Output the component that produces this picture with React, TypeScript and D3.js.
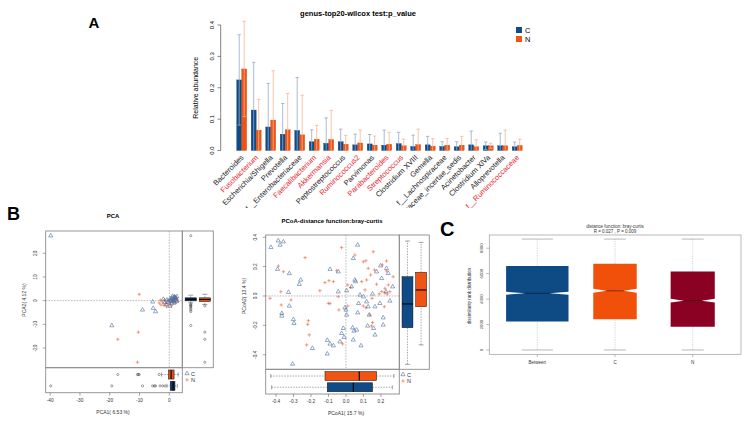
import * as d3 from "d3"

// ---- panel A: top20 genera ----
const genera = [
  "Bacteroides", "Fusobacterium", "Escherichia/Shigella", "Prevotella", "f__Enterobacteriaceae",
  "Faecalibacterium", "Akkermansia", "Peptostreptococcus", "Ruminococcus2", "Parvimonas",
  "Parabacteroides", "Streptococcus", "Clostridium XVIII", "Gemella", "f__Lachnospiraceae",
  "Erysipelotrichaceae_incertae_sedis", "Acinetobacter", "Clostridium XlVa", "Alloprevotella", "f__Ruminococcaceae",
]
const significant = [
  "Fusobacterium", "Faecalibacterium", "Akkermansia", "Ruminococcus2", "Parabacteroides", "Streptococcus", "f__Ruminococcaceae",
]
const cMean = [0.225, 0.129, 0.075, 0.052, 0.064, 0.028, 0.023, 0.028, 0.018, 0.021, 0.017, 0.022, 0.013, 0.018, 0.013, 0.012, 0.018, 0.015, 0.015, 0.012]
const cSd = [0.144, 0.152, 0.139, 0.098, 0.169, 0.038, 0.081, 0.04, 0.034, 0.03, 0.048, 0.036, 0.036, 0.027, 0.015, 0.016, 0.044, 0.012, 0.04, 0.015]
const nMean = [0.26, 0.065, 0.097, 0.066, 0.05, 0.036, 0.035, 0.02, 0.024, 0.017, 0.02, 0.015, 0.019, 0.014, 0.017, 0.017, 0.012, 0.015, 0.015, 0.016]
const nSd = [0.152, 0.098, 0.157, 0.116, 0.126, 0.044, 0.093, 0.028, 0.041, 0.029, 0.038, 0.021, 0.049, 0.024, 0.021, 0.028, 0.022, 0.008, 0.05, 0.02]
const abundanceTicks = [0, 0.1, 0.2, 0.3, 0.4]

// ---- panel B: PCA ----
const pcaC: [number, number][] = [
  [-39.8, 27.4], [-19.3, -10.5], [-9.0, -3.9], [-5.6, -0.5], [-5.4, -3.2], [-4.6, -4.6], [-2.0, 0.6],
  [-1.5, -0.8], [-1.0, -1.6], [-0.5, -0.6], [0.2, -2.3], [0.5, 0.2], [0.8, 0.9], [1.0, -0.4], [1.3, 1.3],
  [1.5, 0.6], [1.8, 1.6], [2.0, 0.2], [2.2, 1.0], [2.5, 1.7], [0.9, -1.2], [1.7, -0.9], [0.3, 0.8],
  [-0.8, 0.3], [2.4, -0.3], [1.1, 1.9], [1.9, 1.3], [0.6, -0.1], [2.1, 0.7], [1.4, 0.1],
]
const pcaN: [number, number][] = [
  [-10.1, 2.7], [-17.3, -16.3], [-10.4, -13.3], [-10.7, -26.0], [-3.4, -1.0], [-2.8, -1.8], [-2.3, -0.6],
  [-1.8, -2.0], [-1.2, -1.2], [-0.6, -0.2], [-0.2, -1.5], [0.3, -0.9], [0.7, -2.2], [1.2, -0.2], [1.6, 0.8],
  [2.0, -1.0], [2.6, 0.4], [3.0, -0.3], [-3.0, 0.2], [-1.6, 0.4], [0.0, 0.5], [0.9, 0.1], [1.8, 1.9],
  [2.4, 1.2], [-0.9, -2.6],
]
const pca1BoxC = [-0.8, 0.3, 1.3, 1.9, 2.7]
const pca1BoxN = [-2.6, -0.3, 0.6, 1.6, 3.0]
const pca1OutC = [-39.8, -19.3, -9.0, -5.6, -5.0, -4.6, -3.1, -2.2, -1.4]
const pca1OutN = [-17.3, -10.7, -10.4, -10.1, -3.4]
const pca2BoxC = [-0.9, -0.1, 0.6, 1.2, 2.3]
const pca2BoxN = [-1.6, -0.4, 0.5, 1.2, 2.7]
const pca2OutC = [27.4, -1.4, -1.8, -2.2, -2.6, -3.2, -3.9, -4.6, -10.5]
const pca2OutN = [-2.2, -13.3, -16.3, -26.0]
const pcaXTicks = [-40, -30, -20, -10, 0]
const pcaYTicks = [-20, -10, 0, 10, 20]

// ---- panel B: PCoA ----
const pcoaC: [number, number][] = [
  [-0.429, 0.331], [-0.387, 0.376], [-0.377, 0.347], [-0.358, 0.369], [-0.391, 0.182], [-0.324, 0.153],
  [-0.259, 0.109], [-0.267, 0.08], [-0.329, 0.025], [-0.324, -0.068], [-0.367, -0.118], [-0.367, -0.136],
  [-0.301, -0.159], [-0.297, -0.186], [-0.305, -0.463], [-0.192, -0.356], [-0.091, 0.182], [-0.044, 0.165],
  [-0.044, 0.029], [0.004, 0.036], [-0.107, -0.301], [-0.107, -0.394], [-0.091, -0.326], [-0.072, -0.338],
  [-0.006, -0.08], [0.0, -0.095], [0.004, -0.129], [-0.015, -0.22], [-0.025, -0.254], [-0.011, -0.281],
  [-0.034, -0.311], [0.032, 0.063], [0.051, 0.109], [0.055, 0.098], [0.067, 0.347], [0.042, 0.256],
  [0.08, 0.007], [0.072, -0.05], [0.067, -0.114], [0.038, -0.216], [0.046, -0.238], [0.042, -0.299],
  [0.061, -0.231], [0.086, -0.338], [0.118, -0.039], [0.127, -0.073], [0.133, -0.129], [0.124, -0.204],
  [0.166, -0.073], [0.166, -0.265], [0.158, -0.22], [0.175, 0.165], [0.198, 0.206], [0.213, -0.197],
  [0.232, 0.188], [0.242, 0.154], [0.204, 0.12], [0.194, -0.05], [0.213, -0.148], [0.251, -0.034],
  [0.267, 0.063], [0.229, 0.029], [0.152, 0.014], [0.1, -0.005],
]
const pcoaN: [number, number][] = [
  [-0.434, -0.016], [-0.387, 0.204], [-0.358, 0.165], [-0.372, 0.029], [-0.37, -0.061], [-0.314, -0.027],
  [-0.234, 0.261], [-0.215, -0.168], [-0.219, -0.193], [-0.21, -0.265], [-0.225, -0.333], [-0.149, 0.036],
  [-0.12, 0.091], [-0.097, 0.104], [-0.072, 0.098], [-0.101, -0.05], [-0.091, -0.052], [-0.044, -0.005],
  [-0.04, -0.095], [-0.053, 0.172], [-0.025, 0.329], [-0.019, -0.326], [0.01, -0.068], [0.01, 0.075],
  [0.027, 0.057], [0.051, 0.279], [0.099, 0.233], [0.114, 0.24], [0.118, 0.109], [0.09, 0.098],
  [0.109, 0.041], [0.156, 0.301], [0.127, 0.188], [0.163, 0.177], [0.141, 0.143], [0.175, 0.08],
  [0.149, -0.016], [0.099, -0.068], [0.114, -0.08], [0.137, -0.129], [0.152, -0.181], [0.146, -0.204],
  [0.19, 0.014], [0.208, 0.211], [0.232, 0.238], [0.232, 0.17], [0.223, 0.052], [0.251, 0.029],
  [0.27, 0.131], [0.242, 0.075], [0.219, -0.073], [0.205, 0.03], [0.222, 0.022], [0.236, 0.012],
]
const pcoa1BoxC = [-0.425, -0.107, 0.042, 0.152, 0.265]
const pcoa1BoxN = [-0.43, -0.12, 0.076, 0.175, 0.274]
const pcoa2BoxC = [-0.465, -0.216, -0.054, 0.131, 0.374]
const pcoa2BoxN = [-0.333, -0.073, 0.041, 0.161, 0.365]
const pcoaXTicks = [-0.4, -0.3, -0.2, -0.1, 0, 0.1, 0.2]
const pcoaYTicks = [-0.4, -0.2, 0, 0.2, 0.4]

// ---- panel C: anosim ----
const anosimGroups = ["Between", "C", "N"]
const anosimStats = [
  [0, 2230, 4460, 6610, 8720],
  [0, 2420, 4650, 6770, 8720],
  [0, 1830, 3880, 6170, 8720],
]
const anosimNotch = [120, 160, 140]
const anosimPairs = [4422, 2145, 2211]
const anosimTicks = [0, 2000, 4000, 6000, 8000]

const FONT = "'Liberation Sans', Arial, Helvetica, sans-serif"
const BLUE = "#0f4c87"
const ORANGE = "#ef5413"
const TRI_STROKE = "#4c70a0"
const PLUS_STROKE = "#e8643a"

const triPath = d3.symbol(d3.symbolTriangle, 7.5)() ?? ""
const plusPath = "M-1.7,0H1.7M0,-1.7V1.7"

function Markers({ pts, x, y, kind }: { pts: [number, number][]; x: d3.ScaleLinear<number, number>; y: d3.ScaleLinear<number, number>; kind: "tri" | "plus" }) {
  return (
    <g>
      {pts.map((p, i) => (
        <path
          key={i}
          d={kind === "tri" ? triPath : plusPath}
          transform={`translate(${x(p[0])},${y(p[1])})`}
          fill="none"
          stroke={kind === "tri" ? TRI_STROKE : PLUS_STROKE}
          strokeWidth={0.6}
        />
      ))}
    </g>
  )
}

function VBox({ cx, w, s, y, fill, out = [] }: { cx: number; w: number; s: number[]; y: d3.ScaleLinear<number, number>; fill: string; out?: number[] }) {
  const cap = w * 0.45
  return (
    <g>
      <line x1={cx} x2={cx} y1={y(s[0])} y2={y(s[1])} stroke="#555" strokeWidth={0.5} strokeDasharray="1.5 1.2" />
      <line x1={cx} x2={cx} y1={y(s[3])} y2={y(s[4])} stroke="#555" strokeWidth={0.5} strokeDasharray="1.5 1.2" />
      <line x1={cx - cap / 2} x2={cx + cap / 2} y1={y(s[0])} y2={y(s[0])} stroke="#444" strokeWidth={0.5} />
      <line x1={cx - cap / 2} x2={cx + cap / 2} y1={y(s[4])} y2={y(s[4])} stroke="#444" strokeWidth={0.5} />
      <rect x={cx - w / 2} y={y(s[3])} width={w} height={Math.max(0.8, y(s[1]) - y(s[3]))} fill={fill} stroke="#111" strokeWidth={0.5} />
      <line x1={cx - w / 2} x2={cx + w / 2} y1={y(s[2])} y2={y(s[2])} stroke="#000" strokeWidth={1.1} />
      {out.map((o, i) => (
        <circle key={i} cx={cx} cy={y(o)} r={1.1} fill="none" stroke="#333" strokeWidth={0.45} />
      ))}
    </g>
  )
}

function HBox({ cy, h, s, x, fill, out = [] }: { cy: number; h: number; s: number[]; x: d3.ScaleLinear<number, number>; fill: string; out?: number[] }) {
  const cap = h * 0.45
  return (
    <g>
      <line y1={cy} y2={cy} x1={x(s[0])} x2={x(s[1])} stroke="#555" strokeWidth={0.5} strokeDasharray="1.5 1.2" />
      <line y1={cy} y2={cy} x1={x(s[3])} x2={x(s[4])} stroke="#555" strokeWidth={0.5} strokeDasharray="1.5 1.2" />
      <line y1={cy - cap / 2} y2={cy + cap / 2} x1={x(s[0])} x2={x(s[0])} stroke="#444" strokeWidth={0.5} />
      <line y1={cy - cap / 2} y2={cy + cap / 2} x1={x(s[4])} x2={x(s[4])} stroke="#444" strokeWidth={0.5} />
      <rect y={cy - h / 2} x={x(s[1])} height={h} width={x(s[3]) - x(s[1])} fill={fill} stroke="#111" strokeWidth={0.5} />
      <line y1={cy - h / 2} y2={cy + h / 2} x1={x(s[2])} x2={x(s[2])} stroke="#000" strokeWidth={1.1} />
      {out.map((o, i) => (
        <circle key={i} cy={cy} cx={x(o)} r={1.1} fill="none" stroke="#333" strokeWidth={0.45} />
      ))}
    </g>
  )
}

function PanelA() {
  const xA = d3.scaleBand<string>().domain(genera).range([232.2, 526.7]).paddingInner(0.31).paddingOuter(0.31)
  const xSub = d3.scaleBand<string>().domain(["C", "N"]).range([0, xA.bandwidth()])
  const yA = d3.scaleLinear().domain([0, 0.4]).range([150.5, 25])
  const series = [
    { key: "C", mean: cMean, sd: cSd, fill: BLUE, err: "#93aacb" },
    { key: "N", mean: nMean, sd: nSd, fill: ORANGE, err: "#f6b595" },
  ]
  return (
    <g fontFamily={FONT}>
      <defs>
        <clipPath id="clipA">
          <rect x={150} y={0} width={420} height={208} />
        </clipPath>
      </defs>
      <text x={94} y={28} fontSize={15} fontWeight="bold" textAnchor="middle">A</text>
      <text x={358} y={16} fontSize={7.5} fontWeight="bold" textAnchor="middle">genus-top20-wilcox test:p_value</text>

      <line x1={220.7} x2={220.7} y1={yA(0)} y2={yA(0.4)} stroke="#333" strokeWidth={0.6} />
      {abundanceTicks.map((t) => (
        <g key={t}>
          <line x1={217.5} x2={220.7} y1={yA(t)} y2={yA(t)} stroke="#333" strokeWidth={0.6} />
          <text transform={`translate(214,${yA(t)}) rotate(-90)`} fontSize={6} textAnchor="middle">{t.toFixed(1)}</text>
        </g>
      ))}
      <text transform={`translate(198,${yA(0.2)}) rotate(-90)`} fontSize={7} textAnchor="middle">Relative abundance</text>

      {series.map((s) => (
        <g key={s.key}>
          {genera.map((g, i) => {
            const x0 = (xA(g) ?? 0) + (xSub(s.key) ?? 0)
            const bw = xSub.bandwidth()
            return <rect key={g} x={x0} y={yA(s.mean[i])} width={bw} height={yA(0) - yA(s.mean[i])} fill={s.fill} stroke={d3.color(s.fill)?.darker(0.6).toString()} strokeWidth={0.3} />
          })}
        </g>
      ))}
      {series.map((s) => (
        <g key={s.key + "err"}>
          {genera.map((g, i) => {
            const cx = (xA(g) ?? 0) + (xSub(s.key) ?? 0) + xSub.bandwidth() / 2
            const lo = s.mean[i] - s.sd[i]
            const hi = s.mean[i] + s.sd[i]
            return (
              <g key={g} stroke={s.err} strokeWidth={0.8}>
                <line x1={cx} x2={cx} y1={yA(Math.max(0, lo))} y2={yA(hi)} />
                <line x1={cx - 1.7} x2={cx + 1.7} y1={yA(hi)} y2={yA(hi)} />
                {lo > 0 && <line x1={cx - 1.7} x2={cx + 1.7} y1={yA(lo)} y2={yA(lo)} />}
              </g>
            )
          })}
        </g>
      ))}

      <g clipPath="url(#clipA)">
        {genera.map((g) => (
          <text
            key={g}
            transform={`translate(${(xA(g) ?? 0) + xA.bandwidth() / 2 + 2.5},${158}) rotate(-45)`}
            fontSize={7.5}
            textAnchor="end"
            fill={significant.includes(g) ? "#e8262d" : "#222"}
          >
            {g}
          </text>
        ))}
      </g>

      {series.map((s, i) => (
        <g key={s.key + "leg"}>
          <rect x={516} y={27 + i * 9} width={6} height={6} fill={s.fill} />
          <text x={525} y={32.5 + i * 9} fontSize={7.5}>{s.key}</text>
        </g>
      ))}
    </g>
  )
}

function PanelPCA() {
  const x = d3.scaleLinear().domain([-41.5, 4.36]).range([45.7, 182.3])
  const y = d3.scaleLinear().domain([-28.3, 29.4]).range([367.7, 231])
  const side = d3.scaleBand<string>().domain(["C", "N"]).range([182.3, 213.3]).padding(0.2)
  const bottom = d3.scaleBand<string>().domain(["N", "C"]).range([367.7, 392.7]).padding(0.2)
  const frame = "#8c8c8c"
  return (
    <g fontFamily={FONT}>
      <text x={7} y={220} fontSize={18} fontWeight="bold">B</text>
      <text x={113} y={218} fontSize={6} fontWeight="bold" textAnchor="middle">PCA</text>
      <line x1={x(0)} x2={x(0)} y1={231} y2={367.7} stroke="#777" strokeWidth={0.5} strokeDasharray="1.6 1.2" />
      <line x1={45.7} x2={182.3} y1={y(0)} y2={y(0)} stroke="#777" strokeWidth={0.5} strokeDasharray="1.6 1.2" />
      <Markers pts={pcaN} x={x} y={y} kind="plus" />
      <Markers pts={pcaC} x={x} y={y} kind="tri" />

      <VBox cx={(side("C") ?? 0) + side.bandwidth() / 2} w={side.bandwidth()} s={pca2BoxC} y={y} fill="#0b3a68" out={pca2OutC} />
      <VBox cx={(side("N") ?? 0) + side.bandwidth() / 2} w={side.bandwidth()} s={pca2BoxN} y={y} fill="#e0521a" out={pca2OutN} />
      <HBox cy={(bottom("N") ?? 0) + bottom.bandwidth() / 2} h={bottom.bandwidth()} s={pca1BoxN} x={x} fill="#e0521a" out={pca1OutN} />
      <HBox cy={(bottom("C") ?? 0) + bottom.bandwidth() / 2} h={bottom.bandwidth()} s={pca1BoxC} x={x} fill="#0b3a68" out={pca1OutC} />

      <rect x={45.7} y={231} width={136.6} height={136.7} fill="none" stroke={frame} strokeWidth={0.9} />
      <rect x={182.3} y={231} width={31} height={136.7} fill="none" stroke={frame} strokeWidth={0.9} />
      <rect x={45.7} y={367.7} width={136.6} height={25} fill="none" stroke={frame} strokeWidth={0.9} />

      {pcaYTicks.map((t) => (
        <g key={t}>
          <line x1={42.7} x2={45.7} y1={y(t)} y2={y(t)} stroke="#555" strokeWidth={0.5} />
          <text transform={`translate(37,${y(t)}) rotate(-90)`} fontSize={4.8} textAnchor="middle" fill="#333">{t}</text>
        </g>
      ))}
      {pcaXTicks.map((t) => (
        <g key={t}>
          <line x1={x(t)} x2={x(t)} y1={392.7} y2={395.7} stroke="#555" strokeWidth={0.5} />
          <text x={x(t)} y={402} fontSize={4.8} textAnchor="middle" fill="#333">{t}</text>
        </g>
      ))}
      <text transform="translate(26,300) rotate(-90)" fontSize={5} textAnchor="middle" fill="#333">PCA2( 4.12 %)</text>
      <text x={113} y={414} fontSize={5} textAnchor="middle" fill="#333">PCA1( 6.53 %)</text>

      <path d={triPath} transform="translate(187,373.5)" fill="none" stroke={TRI_STROKE} strokeWidth={0.6} />
      <text x={191} y={375.5} fontSize={5.5} fill="#333">C</text>
      <path d={plusPath} transform="translate(187,379.8)" fill="none" stroke={PLUS_STROKE} strokeWidth={0.6} />
      <text x={191} y={381.8} fontSize={5.5} fill="#333">N</text>
    </g>
  )
}

function PanelPCoA() {
  const x = d3.scaleLinear().domain([-0.459, 0.305]).range([265.7, 399.3])
  const y = d3.scaleLinear().domain([-0.499, 0.415]).range([369.3, 235])
  const side = d3.scaleBand<string>().domain(["C", "N"]).range([399.3, 429.3]).padding(0.2)
  const bottom = d3.scaleBand<string>().domain(["N", "C"]).range([369.3, 394]).padding(0.2)
  const frame = "#8c8c8c"
  return (
    <g fontFamily={FONT}>
      <text x={332} y={223} fontSize={6} fontWeight="bold" textAnchor="middle">PCoA-distance function:bray-curtis</text>
      <line x1={x(0)} x2={x(0)} y1={235} y2={369.3} stroke="#777" strokeWidth={0.5} strokeDasharray="1.6 1.2" />
      <line x1={265.7} x2={399.3} y1={y(0)} y2={y(0)} stroke="#777" strokeWidth={0.5} strokeDasharray="1.6 1.2" />
      <Markers pts={pcoaN} x={x} y={y} kind="plus" />
      <Markers pts={pcoaC} x={x} y={y} kind="tri" />

      <VBox cx={(side("C") ?? 0) + side.bandwidth() / 2} w={side.bandwidth()} s={pcoa2BoxC} y={y} fill={BLUE} />
      <VBox cx={(side("N") ?? 0) + side.bandwidth() / 2} w={side.bandwidth()} s={pcoa2BoxN} y={y} fill={ORANGE} />
      <HBox cy={(bottom("N") ?? 0) + bottom.bandwidth() / 2} h={bottom.bandwidth()} s={pcoa1BoxN} x={x} fill={ORANGE} />
      <HBox cy={(bottom("C") ?? 0) + bottom.bandwidth() / 2} h={bottom.bandwidth()} s={pcoa1BoxC} x={x} fill={BLUE} />

      <rect x={265.7} y={235} width={133.6} height={134.3} fill="none" stroke={frame} strokeWidth={0.9} />
      <rect x={399.3} y={235} width={30} height={134.3} fill="none" stroke={frame} strokeWidth={0.9} />
      <rect x={265.7} y={369.3} width={133.6} height={24.7} fill="none" stroke={frame} strokeWidth={0.9} />

      {pcoaYTicks.map((t) => (
        <g key={t}>
          <line x1={262.7} x2={265.7} y1={y(t)} y2={y(t)} stroke="#555" strokeWidth={0.5} />
          <text transform={`translate(257,${y(t)}) rotate(-90)`} fontSize={4.8} textAnchor="middle" fill="#333">{t.toFixed(1)}</text>
        </g>
      ))}
      {pcoaXTicks.map((t) => (
        <g key={t}>
          <line x1={x(t)} x2={x(t)} y1={394} y2={397} stroke="#555" strokeWidth={0.5} />
          <text x={x(t)} y={403.3} fontSize={4.8} textAnchor="middle" fill="#333">{t.toFixed(1)}</text>
        </g>
      ))}
      <text transform="translate(246,296) rotate(-90)" fontSize={5} textAnchor="middle" fill="#333">PCoA2( 13.4 %)</text>
      <text x={346} y={414.5} fontSize={5} textAnchor="middle" fill="#333">PCoA1( 15.7 %)</text>

      <path d={triPath} transform="translate(403,374.5)" fill="none" stroke={TRI_STROKE} strokeWidth={0.6} />
      <text x={407} y={376.5} fontSize={5.5} fill="#333">C</text>
      <path d={plusPath} transform="translate(403,381)" fill="none" stroke={PLUS_STROKE} strokeWidth={0.6} />
      <text x={407} y={383} fontSize={5.5} fill="#333">N</text>
    </g>
  )
}

function PanelC() {
  const y = d3.scaleLinear().domain([-340, 9040]).range([354.3, 235])
  const x = d3.scalePoint<string>().domain(anosimGroups).range([537.3, 692.7])
  const fills = ["#0e4b85", "#f0500a", "#8a0124"]
  const maxPairs = d3.max(anosimPairs) ?? 1
  const frame = "#9a9a9a"
  return (
    <g fontFamily={FONT}>
      <text x={440} y={236} fontSize={20} fontWeight="bold">C</text>
      <text x={615} y={228} fontSize={4.5} textAnchor="middle" fill="#333">distance function: bray-curtis</text>
      <text x={615} y={233} fontSize={4.5} textAnchor="middle" fill="#333">R = 0.027 , P = 0.009</text>

      {anosimGroups.map((g, i) => {
        const s = anosimStats[i]
        const cx = x(g) ?? 0
        const w = 31.2 * Math.sqrt(anosimPairs[i] / maxPairs)
        const inset = w * 0.6
        const n = anosimNotch[i]
        const pts: [number, number][] = [
          [cx - w, y(s[1])], [cx - w, y(s[2] - n)], [cx - w + inset, y(s[2])], [cx - w, y(s[2] + n)], [cx - w, y(s[3])],
          [cx + w, y(s[3])], [cx + w, y(s[2] + n)], [cx + w - inset, y(s[2])], [cx + w, y(s[2] - n)], [cx + w, y(s[1])],
        ]
        const cap = w * 0.5
        return (
          <g key={g}>
            <line x1={cx} x2={cx} y1={y(s[0])} y2={y(s[1])} stroke="#aaa" strokeWidth={0.5} strokeDasharray="1.3 1.1" />
            <line x1={cx} x2={cx} y1={y(s[3])} y2={y(s[4])} stroke="#aaa" strokeWidth={0.5} strokeDasharray="1.3 1.1" />
            <line x1={cx - cap} x2={cx + cap} y1={y(s[0])} y2={y(s[0])} stroke="#999" strokeWidth={0.7} />
            <line x1={cx - cap} x2={cx + cap} y1={y(s[4])} y2={y(s[4])} stroke="#999" strokeWidth={0.7} />
            <polygon points={pts.map((p) => p.join(",")).join(" ")} fill={fills[i]} />
            <line x1={cx - w + inset} x2={cx + w - inset} y1={y(s[2])} y2={y(s[2])} stroke={d3.color(fills[i])?.darker(1.6).toString()} strokeWidth={1} />
            <line x1={cx} x2={cx} y1={354.3} y2={357} stroke="#777" strokeWidth={0.5} />
            <text x={cx} y={363.5} fontSize={4.5} textAnchor="middle" fill="#333">{g}</text>
          </g>
        )
      })}

      <rect x={489.3} y={235} width={251.7} height={119.3} fill="none" stroke={frame} strokeWidth={0.7} />
      {anosimTicks.map((t) => (
        <g key={t}>
          <line x1={486.3} x2={489.3} y1={y(t)} y2={y(t)} stroke="#777" strokeWidth={0.5} />
          <text transform={`translate(482.5,${y(t)}) rotate(-90)`} fontSize={4.3} textAnchor="middle" fill="#333">{t}</text>
        </g>
      ))}
      <text transform="translate(471,296) rotate(-90)" fontSize={4.5} textAnchor="middle" fill="#333">dissimilarity rank distribution</text>
    </g>
  )
}

export default function App() {
  return (
    <svg width={753} height={424} viewBox="0 0 753 424" style={{ position: "absolute", left: 0, top: 0, background: "#fff" }}>
      <rect width={753} height={424} fill="#fff" />
      <PanelA />
      <PanelPCA />
      <PanelPCoA />
      <PanelC />
    </svg>
  )
}
